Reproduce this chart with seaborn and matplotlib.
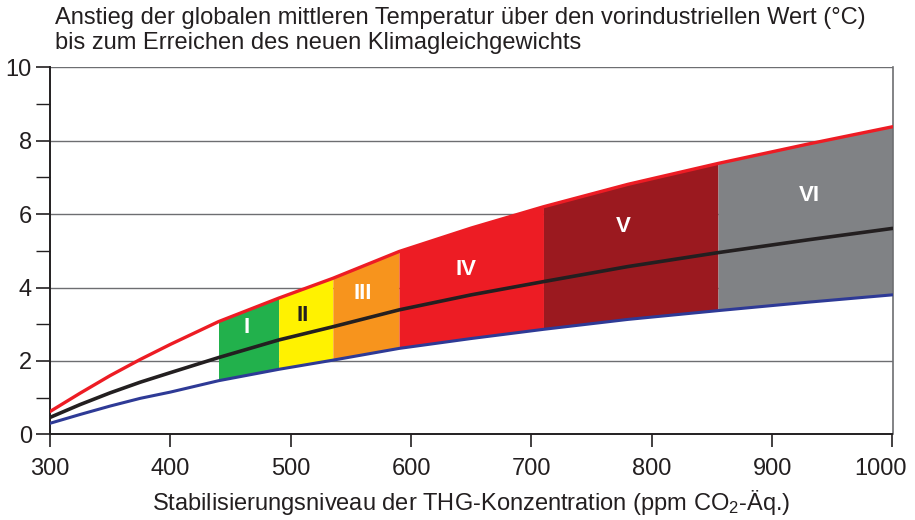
import numpy as np
import pandas as pd
import matplotlib
matplotlib.use("Agg")
import matplotlib.pyplot as plt
import matplotlib.transforms as mtransforms
import seaborn as sns

# ---- data ----
conc = [300, 325, 350, 375, 400, 440, 490, 535, 590, 650, 710, 780, 855, 930, 1000]
upper = [0.62, 1.12, 1.60, 2.04, 2.45, 3.07, 3.71, 4.25, 4.98, 5.62, 6.20, 6.81, 7.38, 7.91, 8.38]
best = [0.46, 0.81, 1.13, 1.42, 1.68, 2.09, 2.57, 2.93, 3.39, 3.80, 4.16, 4.57, 4.95, 5.30, 5.61]
lower = [0.30, 0.54, 0.77, 0.98, 1.15, 1.46, 1.77, 2.02, 2.34, 2.61, 2.86, 3.13, 3.37, 3.60, 3.80]

cat_labels = ["I", "II", "III", "IV", "V", "VI"]
cat_bounds = [(440, 490), (490, 535), (535, 590), (590, 710), (710, 855), (855, 1000)]
cat_colors = ["#22b14c", "#fff200", "#f7941d", "#ed1c24", "#9b191f", "#808285"]
cat_text_colors = ["white", "#231f20", "white", "white", "white", "white"]
cat_label_pos = [(463, 2.9), (510, 3.25), (560, 3.85), (646, 4.5), (776, 5.65), (931, 6.5)]

title_lines = ["Anstieg der globalen mittleren Temperatur über den vorindustriellen Wert (°C)",
               "bis zum Erreichen des neuen Klimagleichgewichts"]
xlabel = "Stabilisierungsniveau der THG-Konzentration (ppm CO$_2$-Äq.)"
xticks = [300, 400, 500, 600, 700, 800, 900, 1000]
yticks = [0, 2, 4, 6, 8, 10]

df = pd.DataFrame({"conc": conc, "upper": upper, "best": best, "lower": lower})

sns.set_theme(style="white")
plt.rcParams["font.family"] = ["Liberation Sans", "DejaVu Sans"]
plt.rcParams["mathtext.fontset"] = "custom"
plt.rcParams["mathtext.rm"] = "Liberation Sans"
plt.rcParams["mathtext.it"] = "Liberation Sans:italic"

FS = 17

fig = plt.figure(figsize=(9.15, 5.2), dpi=100)
ax = fig.add_axes([50 / 915, 1 - 434.3 / 520, (892.5 - 50) / 915, (434.3 - 67.3) / 520])

# coloured category bands
c = np.array(conc)
for (lo, hi), col in zip(cat_bounds, cat_colors):
    m = (c >= lo) & (c <= hi)
    ax.fill_between(c[m], np.array(lower)[m], np.array(upper)[m], color=col, lw=0, zorder=2)

# gridlines
for yv in yticks[1:]:
    ax.axhline(yv, color="#6d6e71", lw=1.0, zorder=1)

sns.lineplot(data=df, x="conc", y="upper", ax=ax, color="#ed1c24", lw=2.4, zorder=4)
sns.lineplot(data=df, x="conc", y="best", ax=ax, color="#231f20", lw=2.6, zorder=4)
sns.lineplot(data=df, x="conc", y="lower", ax=ax, color="#2e3a96", lw=2.2, zorder=4)

for lab, (px, py), tc in zip(cat_labels, cat_label_pos, cat_text_colors):
    ax.text(px, py, lab, color=tc, fontsize=16, fontweight="bold", ha="center", va="center", zorder=5)

ax.set_xlim(300, 1000)
ax.set_ylim(0, 10)
ax.set_xticks(xticks)
ax.set_xticklabels([str(v) for v in xticks])
ax.set_yticks(yticks)
ax.set_yticks([1, 3, 5, 7, 9], minor=True)
ax.tick_params(axis="x", direction="out", length=9, width=1.2, color="#231f20",
               labelsize=FS, pad=8, bottom=True)
ax.tick_params(axis="y", which="major", direction="out", length=10, width=1.2, color="#231f20",
               labelsize=FS, pad=3, left=True)
ax.tick_params(axis="y", which="minor", direction="out", length=10, width=1.0, color="#231f20", left=True)
ax.set_xlabel(xlabel, fontsize=FS, labelpad=6, color="#231f20")
ax.set_ylabel("")

# last x tick label pulled left so it stays inside the figure (as in the reference)
last = ax.get_xticklabels()[-1]
last.set_transform(last.get_transform() + mtransforms.ScaledTranslation(-12 / 100, 0, fig.dpi_scale_trans))

for s in ["left", "bottom"]:
    ax.spines[s].set_color("#231f20")
    ax.spines[s].set_linewidth(1.4)
ax.spines["right"].set_color("#6d6e71")
ax.spines["right"].set_linewidth(1.2)
ax.spines["top"].set_visible(False)
for lab in ax.get_xticklabels() + ax.get_yticklabels():
    lab.set_color("#231f20")

fig.text(55 / 915, 1 - 24 / 520, title_lines[0], fontsize=FS, color="#231f20", va="baseline", ha="left")
fig.text(55 / 915, 1 - 49 / 520, title_lines[1], fontsize=FS, color="#231f20", va="baseline", ha="left")

fig.savefig("out.png", dpi=100)
